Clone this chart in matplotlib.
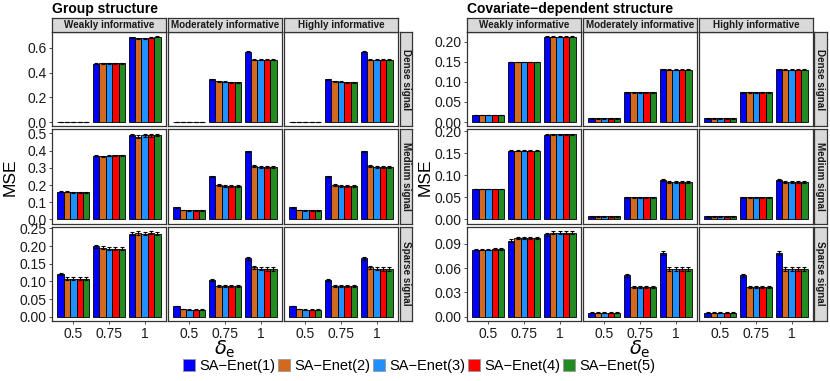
import numpy as np
import matplotlib.pyplot as plt
from matplotlib.patches import Patch

plt.rcParams['font.family'] = ['Liberation Sans', 'DejaVu Sans']

# ---- data (rows: informativeness, then delta_e, then method) ----
methods = ['SA\u2212Enet(1)', 'SA\u2212Enet(2)', 'SA\u2212Enet(3)', 'SA\u2212Enet(4)', 'SA\u2212Enet(5)']
colors = ['#0000FF', '#D2691E', '#1E90FF', '#FF0000', '#228B22']
deltas = ['0.5', '0.75', '1']
informativeness = ['Weakly informative', 'Moderately informative', 'Highly informative']
signals = ['Dense signal', 'Medium signal', 'Sparse signal']
structures = ['Group structure', 'Covariate\u2212dependent structure']

group_dense = np.array([
    [[0.003, 0.003, 0.003, 0.003, 0.003], [0.470, 0.474, 0.474, 0.474, 0.474], [0.685, 0.680, 0.680, 0.684, 0.690]],
    [[0.003, 0.003, 0.003, 0.003, 0.003], [0.345, 0.330, 0.325, 0.322, 0.322], [0.570, 0.505, 0.505, 0.505, 0.505]],
    [[0.003, 0.003, 0.003, 0.003, 0.003], [0.345, 0.330, 0.325, 0.322, 0.322], [0.570, 0.505, 0.505, 0.505, 0.505]],
])
group_dense_err = np.array([
    [[0.001] * 5, [0.004] * 5, [0.004] * 5],
    [[0.001] * 5, [0.004] * 5, [0.004] * 5],
    [[0.001] * 5, [0.004] * 5, [0.004] * 5],
])
group_medium = np.array([
    [[0.160, 0.160, 0.158, 0.157, 0.157], [0.370, 0.367, 0.370, 0.372, 0.373], [0.490, 0.480, 0.488, 0.490, 0.492]],
    [[0.070, 0.055, 0.053, 0.053, 0.053], [0.250, 0.200, 0.195, 0.195, 0.195], [0.395, 0.310, 0.305, 0.305, 0.305]],
    [[0.070, 0.055, 0.053, 0.053, 0.053], [0.250, 0.200, 0.195, 0.195, 0.195], [0.395, 0.310, 0.305, 0.305, 0.305]],
])
group_medium_err = np.array([
    [[0.003] * 5, [0.004] * 5, [0.006, 0.008, 0.008, 0.008, 0.007]],
    [[0.002] * 5, [0.004] * 5, [0.005] * 5],
    [[0.002] * 5, [0.004] * 5, [0.005] * 5],
])
group_sparse = np.array([
    [[0.122, 0.108, 0.108, 0.108, 0.108], [0.199, 0.195, 0.192, 0.192, 0.193], [0.235, 0.237, 0.235, 0.238, 0.235]],
    [[0.030, 0.022, 0.020, 0.020, 0.020], [0.105, 0.088, 0.087, 0.087, 0.087], [0.165, 0.140, 0.136, 0.135, 0.135]],
    [[0.030, 0.022, 0.020, 0.020, 0.020], [0.105, 0.088, 0.087, 0.087, 0.087], [0.165, 0.140, 0.136, 0.135, 0.135]],
])
group_sparse_err = np.array([
    [[0.003, 0.004, 0.004, 0.004, 0.004], [0.004] * 5, [0.005] * 5],
    [[0.001] * 5, [0.003] * 5, [0.004, 0.005, 0.005, 0.005, 0.005]],
    [[0.001] * 5, [0.003] * 5, [0.004, 0.005, 0.005, 0.005, 0.005]],
])

cov_dense = np.array([
    [[0.017] * 5, [0.149] * 5, [0.212] * 5],
    [[0.009] * 5, [0.074] * 5, [0.131, 0.130, 0.130, 0.130, 0.130]],
    [[0.009] * 5, [0.074] * 5, [0.131, 0.130, 0.130, 0.130, 0.130]],
])
cov_dense_err = np.array([
    [[0.0005] * 5, [0.001] * 5, [0.001] * 5],
    [[0.0005] * 5, [0.001] * 5, [0.001] * 5],
    [[0.0005] * 5, [0.001] * 5, [0.001] * 5],
])
cov_medium = np.array([
    [[0.069] * 5, [0.156] * 5, [0.192, 0.193, 0.193, 0.193, 0.193]],
    [[0.007] * 5, [0.050] * 5, [0.090, 0.084, 0.084, 0.084, 0.084]],
    [[0.007] * 5, [0.050] * 5, [0.090, 0.084, 0.084, 0.084, 0.084]],
])
cov_medium_err = np.array([
    [[0.001] * 5, [0.001] * 5, [0.0015] * 5],
    [[0.0005] * 5, [0.001] * 5, [0.002] * 5],
    [[0.0005] * 5, [0.001] * 5, [0.002] * 5],
])
cov_sparse = np.array([
    [[0.083, 0.083, 0.083, 0.084, 0.084], [0.094, 0.097, 0.097, 0.097, 0.097], [0.102, 0.104, 0.104, 0.104, 0.104]],
    [[0.005] * 5, [0.051, 0.037, 0.037, 0.037, 0.037], [0.079, 0.059, 0.059, 0.059, 0.059]],
    [[0.005] * 5, [0.051, 0.037, 0.037, 0.037, 0.037], [0.079, 0.059, 0.059, 0.059, 0.059]],
])
cov_sparse_err = np.array([
    [[0.001] * 5, [0.0015] * 5, [0.002] * 5],
    [[0.0005] * 5, [0.0015] * 5, [0.0025] * 5],
    [[0.0005] * 5, [0.0015] * 5, [0.0025] * 5],
])

group_yticks = [[0, 0.2, 0.4, 0.6], [0, 0.1, 0.2, 0.3, 0.4, 0.5], [0, 0.05, 0.10, 0.15, 0.20, 0.25]]
group_yfmt = ['%.1f', '%.1f', '%.2f']
cov_yticks = [[0, 0.05, 0.10, 0.15, 0.20], [0, 0.05, 0.10, 0.15, 0.20], [0, 0.03, 0.06, 0.09]]
cov_yfmt = ['%.2f', '%.2f', '%.2f']

values = [[group_dense, group_medium, group_sparse], [cov_dense, cov_medium, cov_sparse]]
errors = [[group_dense_err, group_medium_err, group_sparse_err], [cov_dense_err, cov_medium_err, cov_sparse_err]]
yticks = [group_yticks, cov_yticks]
yfmts = [group_yfmt, cov_yfmt]

# ---- layout (pixels) ----
W, H = 830, 381
fig = plt.figure(figsize=(W / 100, H / 100), dpi=100)
edge = '#333333'


def px_axes(x, y, w, h):
    return fig.add_axes([x / W, 1 - (y + h) / H, w / W, h / H])


col_x = [[52, 168, 284], [467, 583, 699]]
col_w = 114
row_y = [32, 129.3, 226.6]
row_h = 94.4
strip_top, strip_h = 18, 13.5
rstrip_x = [399.5, 814]
rstrip_w = 12.5

ngrp = len(deltas)
nm = len(methods)
bw = 0.9 / nm
xg = np.arange(1, ngrp + 1)

for s in range(2):
    fig.text(col_x[s][0] / W, 1 - 9 / H, structures[s], fontsize=10, fontweight='bold',
             va='center', ha='left')
    for r in range(3):
        vals = values[s][r]
        errs = errors[s][r]
        top = (vals + errs).max()
        lo, hi = -0.05 * top, top * 1.05
        for c in range(3):
            ax = px_axes(col_x[s][c], row_y[r], col_w, row_h)
            for m in range(nm):
                xpos = xg - 0.45 + bw * (m + 0.5)
                ax.bar(xpos, vals[c, :, m], width=bw, color=colors[m],
                       edgecolor='black', linewidth=0.6, zorder=2)
                ax.errorbar(xpos, vals[c, :, m], yerr=errs[c, :, m], fmt='none',
                            ecolor='black', elinewidth=0.8, capsize=1.5,
                            capthick=0.8, zorder=3)
            ax.set_xlim(0.4, 3.6)
            ax.set_ylim(lo, hi)
            ax.set_xticks(xg)
            ax.set_yticks(yticks[s][r])
            ax.tick_params(direction='out', length=2.5, width=0.6, color=edge,
                           labelsize=10, pad=1.5, labelcolor='#1a1a1a')
            if c == 0:
                ax.set_yticklabels([yfmts[s][r] % v for v in yticks[s][r]])
            else:
                ax.set_yticklabels([])
                ax.tick_params(axis='y', length=0)
            if r == 2:
                ax.set_xticklabels(deltas)
            else:
                ax.set_xticklabels([])
                ax.tick_params(axis='x', length=0)
            for sp in ax.spines.values():
                sp.set_color(edge)
                sp.set_linewidth(0.9)
            # top strip
            if r == 0:
                st = px_axes(col_x[s][c], strip_top, col_w, strip_h)
                st.set_facecolor('#D9D9D9')
                st.set_xticks([])
                st.set_yticks([])
                for sp in st.spines.values():
                    sp.set_color(edge)
                    sp.set_linewidth(0.9)
                st.text(0.5, 0.48, informativeness[c], ha='center', va='center',
                        fontsize=7.1, fontweight='bold', color='#1a1a1a',
                        transform=st.transAxes)
        # right strip
        rs = px_axes(rstrip_x[s], row_y[r], rstrip_w, row_h)
        rs.set_facecolor('#D9D9D9')
        rs.set_xticks([])
        rs.set_yticks([])
        for sp in rs.spines.values():
            sp.set_color(edge)
            sp.set_linewidth(0.9)
        rs.text(0.5, 0.5, signals[r], rotation=-90, ha='center', va='center',
                fontsize=7.1, fontweight='bold', color='#1a1a1a', transform=rs.transAxes)

    # axis labels
    ylab_x = [10, 425][s]
    fig.text(ylab_x / W, 1 - 177 / H, 'MSE', rotation=90, fontsize=12.5,
             ha='center', va='center')
    xmid = (col_x[s][0] + col_x[s][2] + col_w) / 2
    fig.text(xmid / W, 1 - 349 / H, r'$\delta_{\mathrm{e}}$', fontsize=14,
             ha='center', va='center')

handles = [Patch(facecolor=colors[m], edgecolor='#999999', linewidth=0.6) for m in range(nm)]
fig.legend(handles, methods, loc='center', bbox_to_anchor=(419 / W, 1 - 366 / H),
           ncol=nm, frameon=False, fontsize=10.5, handlelength=0.85, handleheight=0.85,
           handletextpad=0.25, columnspacing=0.2, borderaxespad=0, borderpad=0)

fig.savefig('out.png', dpi=100, facecolor='white')
